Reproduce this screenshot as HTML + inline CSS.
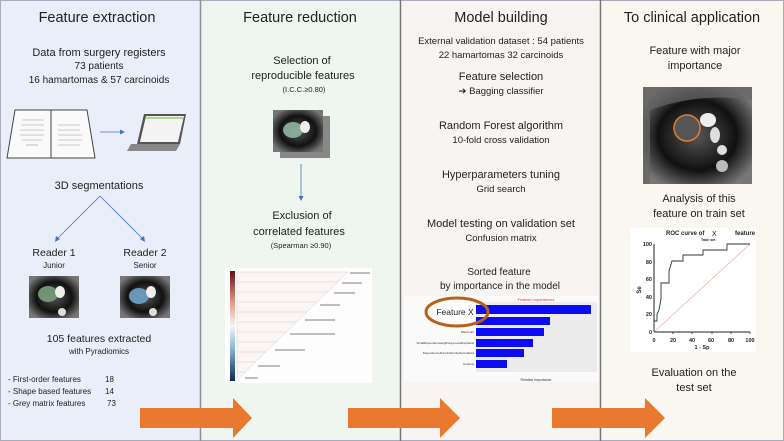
<!DOCTYPE html>
<html><head><meta charset="utf-8"><style>
html,body{margin:0;padding:0;width:784px;height:441px;overflow:hidden;background:#fff}
svg{display:block;font-family:"Liberation Sans",sans-serif}
</style></head><body>
<svg width="784" height="441" viewBox="0 0 784 441" xmlns="http://www.w3.org/2000/svg">
<defs>
<radialGradient id="ct" cx="50%" cy="50%" r="60%"><stop offset="0" stop-color="#555"/><stop offset="0.6" stop-color="#111"/><stop offset="1" stop-color="#777"/></radialGradient>
<linearGradient id="hm" x1="0" y1="0" x2="0" y2="1"><stop offset="0" stop-color="#6b0a1a"/><stop offset="0.3" stop-color="#e8a08a"/><stop offset="0.5" stop-color="#f5f5f5"/><stop offset="0.7" stop-color="#8ab8d8"/><stop offset="1" stop-color="#0a2a5a"/></linearGradient>
</defs>
<rect x="0" y="0" width="200" height="441" fill="#e9eef9"/>
<rect x="200" y="0" width="200" height="441" fill="#eff6f0"/>
<rect x="400" y="0" width="200" height="441" fill="#f7f4f1"/>
<rect x="600" y="0" width="184" height="441" fill="#f9f7f0"/>
<rect x="0.5" y="0.5" width="783" height="440" fill="none" stroke="#aab" stroke-width="1"/>
<line x1="200.5" y1="0" x2="200.5" y2="441" stroke="#8a8f98" stroke-width="1.5"/>
<line x1="400.5" y1="0" x2="400.5" y2="441" stroke="#777" stroke-width="1.5"/>
<line x1="600.5" y1="0" x2="600.5" y2="441" stroke="#777" stroke-width="1.5"/>

<g fill="#222" text-anchor="middle">
<text x="97" y="22" font-size="14.5">Feature extraction</text>
<text x="99" y="56" font-size="11">Data from surgery registers</text>
<text x="99" y="69" font-size="10">73 patients</text>
<text x="99" y="83" font-size="10">16 hamartomas &amp; 57 carcinoids</text>
<text x="99" y="189" font-size="11">3D segmentations</text>
<text x="54" y="256" font-size="10.5">Reader 1</text>
<text x="54" y="268" font-size="8">Junior</text>
<text x="145" y="256" font-size="10.5">Reader 2</text>
<text x="145" y="268" font-size="8">Senior</text>
<text x="99" y="342" font-size="10.5">105 features extracted</text>
<text x="99" y="354" font-size="8">with Pyradiomics</text>

<text x="300" y="22" font-size="14.5">Feature reduction</text>
<text x="302" y="64" font-size="11">Selection of</text>
<text x="303" y="79" font-size="11">reproducible features</text>
<text x="304" y="92" font-size="7.5">(I.C.C.≥0.80)</text>
<text x="302" y="219" font-size="11">Exclusion of</text>
<text x="299" y="235" font-size="11">correlated features</text>
<text x="301" y="248" font-size="7.5">(Spearman ≥0.90)</text>

<text x="501" y="22" font-size="14.5">Model building</text>
<text x="501" y="44" font-size="9.5">External validation dataset : 54 patients</text>
<text x="501" y="58" font-size="9.5">22 hamartomas 32 carcinoids</text>
<text x="501" y="80" font-size="11">Feature selection</text>
<text x="501" y="94" font-size="9.5">➔ Bagging classifier</text>
<text x="501" y="129" font-size="11">Random Forest algorithm</text>
<text x="501" y="143" font-size="9.5">10-fold cross validation</text>
<text x="501" y="178" font-size="11">Hyperparameters tuning</text>
<text x="501" y="192" font-size="9.5">Grid search</text>
<text x="501" y="227" font-size="11">Model testing on validation set</text>
<text x="501" y="241" font-size="9.5">Confusion matrix</text>
<text x="499" y="275" font-size="10">Sorted feature</text>
<text x="500" y="289" font-size="10">by importance in the model</text>

<text x="692" y="22" font-size="14.5">To clinical application</text>
<text x="695" y="54" font-size="11">Feature with major</text>
<text x="695" y="69" font-size="11">importance</text>
<text x="699" y="202" font-size="11">Analysis of this</text>
<text x="699" y="217" font-size="11">feature  on train set</text>
<text x="694" y="376" font-size="11">Evaluation on the</text>
<text x="694" y="391" font-size="11">test set</text>
</g>
<g fill="#222" font-size="8">
<text x="8" y="382">- First-order features</text><text x="105" y="382">18</text>
<text x="8" y="394">- Shape based features</text><text x="105" y="394">14</text>
<text x="8" y="406">- Grey matrix features</text><text x="107" y="406">73</text>
</g>

<!-- book -->
<polygon points="15,110 51,110 51,158 7,158" fill="#fafafa" stroke="#444" stroke-width="1"/>
<polygon points="51,110 87,110 95,158 51,158" fill="#fafafa" stroke="#444" stroke-width="1"/>
<g stroke="#999" stroke-width="0.6">
<line x1="22" y1="120" x2="44" y2="120"/><line x1="21" y1="125" x2="44" y2="125"/><line x1="20" y1="130" x2="44" y2="130"/><line x1="20" y1="135" x2="44" y2="135"/><line x1="22" y1="140" x2="42" y2="140"/><line x1="26" y1="145" x2="38" y2="145"/>
<line x1="58" y1="125" x2="80" y2="125"/><line x1="58" y1="130" x2="80" y2="130"/><line x1="58" y1="135" x2="82" y2="135"/><line x1="58" y1="140" x2="82" y2="140"/><line x1="58" y1="145" x2="80" y2="145"/>
</g>
<!-- laptop -->
<polygon points="144,114 186,114 180,144 137,144" fill="#555"/>
<polygon points="146,116 184,116 178,142 140,142" fill="#f4f4f4"/>
<line x1="146" y1="118" x2="183" y2="118" stroke="#9c6" stroke-width="1.5"/>
<polygon points="131,144 180,144 176,151 127,151" fill="#888"/>
<line x1="100" y1="132" x2="123" y2="132" stroke="#4472c4" stroke-width="0.8"/>
<polygon points="125,132 120,129.5 120,134.5" fill="#4472c4"/>
<!-- branches -->
<g stroke="#4472c4" stroke-width="0.8">
<line x1="100" y1="196" x2="57" y2="239"/><line x1="100" y1="196" x2="143" y2="239"/>
<line x1="301" y1="164" x2="301" y2="196"/>
</g>
<polygon points="55,242 56,236 60,239" fill="#4472c4"/>
<polygon points="145,242 140,239 144,236" fill="#4472c4"/>
<polygon points="301,201 298.5,196 303.5,196" fill="#4472c4"/>
<!-- CT readers -->
<rect x="29" y="276" width="50" height="42" fill="url(#ct)"/>
<ellipse cx="48" cy="294" rx="10" ry="8" fill="#7a9e7a" opacity="0.9"/>
<ellipse cx="60" cy="292" rx="5" ry="6" fill="#eee"/>
<circle cx="62" cy="312" r="4" fill="#ddd"/>
<rect x="120" y="276" width="50" height="42" fill="url(#ct)"/>
<ellipse cx="139" cy="296" rx="10" ry="8" fill="#6a9cbf" opacity="0.95"/>
<ellipse cx="151" cy="292" rx="5" ry="6" fill="#eee"/>
<circle cx="153" cy="312" r="4" fill="#ddd"/>
<!-- panel2 image -->
<rect x="280" y="116" width="50" height="42" fill="#888"/>
<rect x="273" y="110" width="50" height="42" fill="url(#ct)"/>
<ellipse cx="293" cy="130" rx="10" ry="8" fill="#8fb5a0" opacity="0.9"/>
<ellipse cx="305" cy="127" rx="5" ry="6" fill="#eee"/>
<!-- heatmap -->
<rect x="225" y="268" width="147" height="115" fill="#fdfdfd"/>
<rect x="230" y="271" width="5" height="110" fill="url(#hm)"/>
<polygon points="237,272 348,272 237,380" fill="#fbf5f4" stroke="#ccc" stroke-width="0.4"/>
<g stroke="#bbb" stroke-width="0.3">
<line x1="237" y1="282" x2="338" y2="282"/><line x1="237" y1="292" x2="328" y2="292"/><line x1="237" y1="302" x2="317" y2="302"/><line x1="237" y1="312" x2="307" y2="312"/><line x1="237" y1="322" x2="297" y2="322"/><line x1="237" y1="332" x2="287" y2="332"/><line x1="237" y1="342" x2="277" y2="342"/><line x1="237" y1="352" x2="266" y2="352"/><line x1="237" y1="362" x2="256" y2="362"/><line x1="237" y1="372" x2="246" y2="372"/>
</g>
<g stroke="#999" stroke-width="1.2">
<line x1="350" y1="273" x2="370" y2="273"/><line x1="342" y1="283" x2="362" y2="283"/><line x1="334" y1="293" x2="355" y2="293"/><line x1="320" y1="305" x2="340" y2="305"/><line x1="305" y1="320" x2="335" y2="320"/><line x1="290" y1="334" x2="335" y2="334"/><line x1="275" y1="350" x2="305" y2="350"/><line x1="258" y1="366" x2="280" y2="366"/><line x1="245" y1="378" x2="258" y2="378"/>
</g>
<!-- importance chart -->
<rect x="404" y="296" width="195" height="86" fill="#fafafa"/>
<rect x="476" y="302" width="121" height="70" fill="#ececec"/>
<text x="536" y="301" font-size="4" fill="#e33" text-anchor="middle">Feature importances</text>
<g fill="#0b0bf5">
<rect x="476" y="305" width="115" height="9"/><rect x="476" y="317" width="74" height="8"/><rect x="476" y="328" width="68" height="8"/><rect x="476" y="339" width="57" height="8"/><rect x="476" y="349" width="48" height="8"/><rect x="476" y="360" width="31" height="8"/>
</g>
<g font-size="3" fill="#333" text-anchor="end"><text x="474" y="333">Maximum</text><text x="474" y="344">SmallDependenceHighGrayLevelEmphasis</text><text x="474" y="354">DependenceNonUniformityNormalized</text><text x="474" y="365">Kurtosis</text></g>
<text x="536" y="381" font-size="3.5" fill="#333" text-anchor="middle">Relative importance</text>
<rect x="430" y="303" width="45" height="18" fill="#fff"/>
<ellipse cx="457" cy="312" rx="31" ry="14" fill="none" stroke="#b5621a" stroke-width="3"/>
<text x="455" y="315" font-size="8.5" fill="#222" text-anchor="middle">Feature X</text>
<!-- clinical CT -->
<rect x="643" y="87" width="109" height="97" fill="url(#ct)"/>
<path d="M643 87 L752 87 L752 100 Q700 92 650 110 L650 184 L643 184 Z" fill="#666" opacity="0.7"/>
<circle cx="687" cy="128" r="13" fill="#555"/>
<circle cx="687" cy="128" r="13" fill="none" stroke="#e8792e" stroke-width="1.5"/>
<ellipse cx="708" cy="120" rx="8" ry="7" fill="#eee"/><ellipse cx="715" cy="135" rx="5" ry="8" fill="#ddd"/>
<circle cx="722" cy="150" r="5" fill="#ddd"/><circle cx="722" cy="166" r="6" fill="#bbb"/>
<!-- ROC -->
<rect x="630" y="228" width="126" height="124" fill="#fff"/>
<text x="666" y="235" font-size="6" font-weight="bold" fill="#222">ROC curve of</text>
<text x="712" y="236" font-size="7" fill="#222">X</text>
<text x="735" y="235" font-size="6" font-weight="bold" fill="#222">feature</text>
<text x="701" y="241" font-size="3.5" font-weight="bold" fill="#222">Train set</text>
<line x1="654" y1="332" x2="750" y2="332" stroke="#222" stroke-width="1"/>
<line x1="654" y1="244" x2="654" y2="332" stroke="#222" stroke-width="1"/>
<line x1="654" y1="332" x2="750" y2="244" stroke="#f3aaaa" stroke-width="0.7"/>
<polyline fill="none" stroke="#333" stroke-width="0.9" points="654,332 654,321 657,321 657,314 659,310 661,299 661,283 669,283 669,271 672,261 683,261 683,255 703,255 703,250 727,250 727,244 750,244"/>
<g font-size="5.5" font-weight="bold" fill="#222" text-anchor="end">
<text x="652" y="334">0</text><text x="652" y="316">20</text><text x="652" y="299">40</text><text x="652" y="281">60</text><text x="652" y="264">80</text><text x="652" y="246">100</text>
</g>
<g stroke="#222" stroke-width="0.8"><line x1="673" y1="332" x2="673" y2="334"/><line x1="692" y1="332" x2="692" y2="334"/><line x1="712" y1="332" x2="712" y2="334"/><line x1="731" y1="332" x2="731" y2="334"/><line x1="750" y1="332" x2="750" y2="334"/></g>
<g font-size="5.5" font-weight="bold" fill="#222" text-anchor="middle">
<text x="654" y="342">0</text><text x="673" y="342">20</text><text x="692" y="342">40</text><text x="711" y="342">60</text><text x="731" y="342">80</text><text x="750" y="342">100</text>
<text x="702" y="349">1 - Sp</text>
</g>
<text x="641" y="290" font-size="6" font-weight="bold" fill="#222" transform="rotate(-90 641 290)" text-anchor="middle">Se</text>
<!-- orange arrows -->
<g fill="#e8792e">
<polygon points="140,408 233,408 233,398 252,418 233,438 233,428 140,428"/>
<polygon points="348,408 440,408 440,398 460,418 440,438 440,428 348,428"/>
<polygon points="552,408 645,408 645,398 665,418 645,438 645,428 552,428"/>
</g>
</svg>
</body></html>
